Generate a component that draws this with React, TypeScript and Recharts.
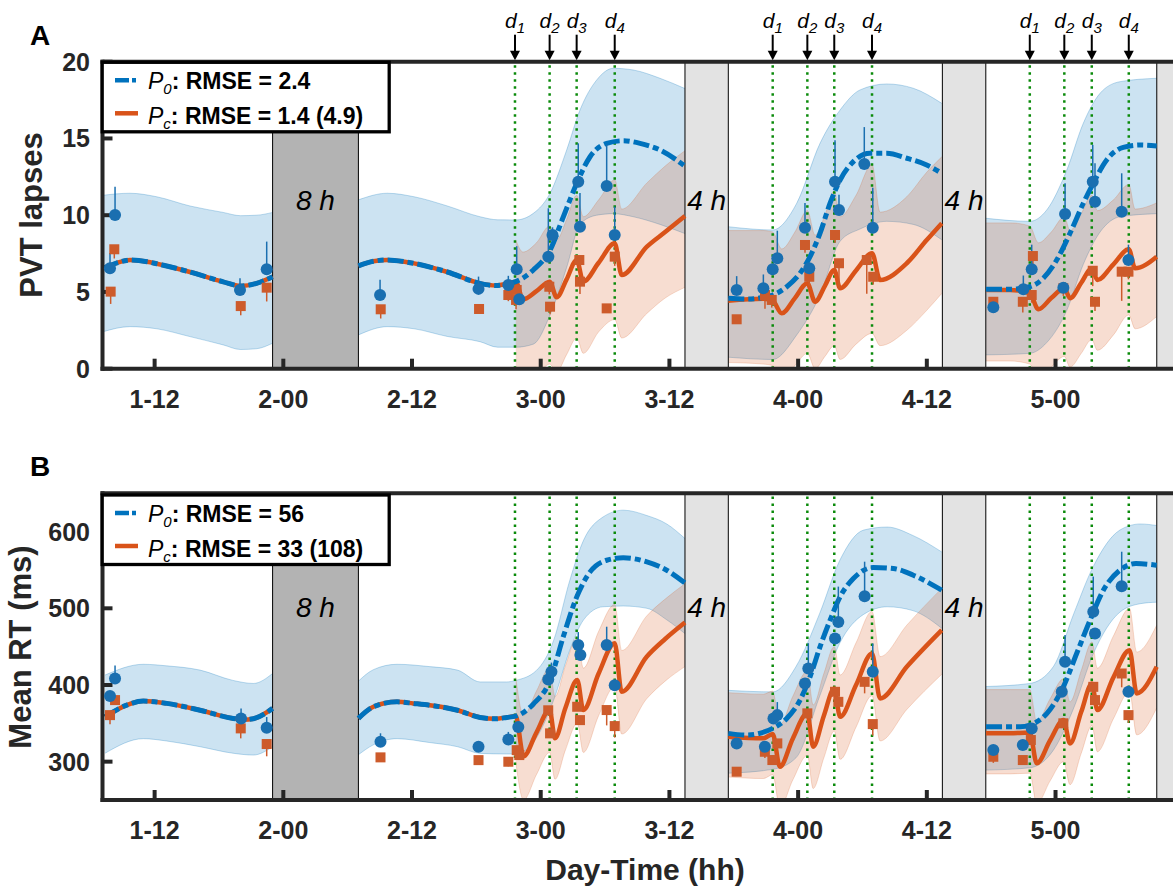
import React from "react";
import {
  Area,
  ComposedChart,
  ErrorBar,
  Line,
  ReferenceArea,
  ReferenceLine,
  Scatter,
  XAxis,
  YAxis,
} from "recharts";

type Pt = [number, number];
type Band = [number, number, number];
type Obs = [number, number, number];

const BLUE = "#0072bd";
const ORANGE = "#d95319";
const BLUE_DOT = "#1a6fb0";
const ORANGE_SQ = "#cd5b2b";
const DOSE_GREEN = "#0a8a0a";
const AXIS = "#262626";
const FONT = "'Liberation Sans', Arial, Helvetica, sans-serif";

// x is hours since day 1, 00:00
const X_DOMAIN: [number, number] = [7.14, 107.28];
const TICK_HOURS = [12, 24, 36, 48, 60, 72, 84, 96];
const TICK_LABELS = ["1-12", "2-00", "2-12", "3-00", "3-12", "4-00", "4-12", "5-00"];
const SLEEP_START = [23, 61.45, 85.45, 105.44];
const SLEEP_END = [31, 65.49, 89.5, 109.5];
const SLEEP_LABEL = ["8 h", "4 h", "4 h", ""];
const SLEEP_FILL = ["#b3b3b3", "#e3e3e3", "#e3e3e3", "#e3e3e3"];
const DOSES = [45.6, 48.83, 51.35, 54.9, 69.63, 72.86, 75.37, 78.89, 93.6, 96.82, 99.38, 102.83];
const DOSE_NUM = [1, 2, 3, 4, 1, 2, 3, 4, 1, 2, 3, 4];

// ---- panel A: PVT lapses ----
const lapsesDay1: Pt[] = [[7.2, 6.54], [8.5, 6.9], [9.7, 7.08], [11.3, 6.97], [12.2, 6.84], [15.3, 6.3], [18.4, 5.66], [20.0, 5.39], [21.5, 5.56], [23.0, 5.99]];
const lapsesDay2Pre: Pt[] = [[31.0, 6.7], [32.4, 7.0], [33.7, 7.08], [35.3, 6.97], [36.2, 6.86], [39.3, 6.3], [42.34, 5.56], [43.8, 5.42], [44.83, 5.52], [45.67, 5.67]];
const lapsesP0: Pt[][] = [
  lapsesDay1,
  [...lapsesDay2Pre, [47.31, 6.43], [48.87, 7.73], [50.11, 9.9], [51.36, 12.08], [52.6, 13.81], [54.15, 14.68], [55.7, 14.85], [57.26, 14.68], [59.12, 14.25], [61.45, 13.2]],
  [[65.49, 4.59], [67.2, 4.54], [68.76, 4.65], [69.63, 4.8], [70.94, 5.34], [72.18, 6.22], [73.11, 7.3], [74.04, 8.82], [74.98, 10.78], [75.91, 12.29], [77.15, 13.49], [78.7, 14.03], [80.26, 14.03], [82.13, 13.71], [83.99, 13.27], [85.39, 12.73]],
  [[89.52, 5.17], [91.76, 5.17], [93.6, 5.34], [94.86, 5.89], [96.11, 7.08], [97.35, 8.82], [98.59, 10.78], [99.52, 12.08], [100.77, 13.6], [102.32, 14.42], [103.88, 14.57], [105.43, 14.51]],
];
const lapsesPc: Pt[][] = [
  lapsesDay1,
  [...lapsesDay2Pre, [46.35, 4.52], [47.6, 5.05], [48.83, 5.67], [49.49, 4.65], [50.4, 5.8], [51.36, 7.08], [51.97, 5.67], [53.4, 6.9], [54.9, 8.17], [55.55, 6.1], [57.9, 7.95], [59.6, 8.9], [61.45, 9.95]],
  [[65.49, 4.43], [68.76, 4.55], [69.63, 4.43], [70.47, 3.61], [71.7, 4.6], [72.86, 5.56], [73.58, 4.36], [74.5, 5.4], [75.37, 6.43], [75.91, 5.24], [77.4, 6.4], [78.89, 7.52], [79.64, 5.78], [82.13, 6.87], [83.99, 8.38], [85.39, 9.47]],
  [[89.52, 5.13], [91.76, 5.13], [93.6, 4.91], [94.4, 3.87], [95.6, 4.6], [96.82, 5.24], [97.35, 4.59], [98.4, 5.6], [99.38, 6.54], [99.9, 5.78], [101.4, 6.8], [102.83, 7.78], [103.42, 6.54], [105.43, 7.3]],
];
const lapsesP0Band: Band[][] = [
  [[7.2, 2.41, 11.3], [9.7, 2.74, 11.43], [12.2, 2.6, 11.2], [15.3, 2.09, 10.6], [18.4, 1.55, 10.18], [20.0, 1.25, 9.97], [21.5, 1.3, 10.0], [23.0, 1.66, 10.18]],
  [[31.0, 2.2, 11.0], [33.7, 2.74, 11.43], [36.2, 2.6, 11.2], [39.3, 2.1, 10.6], [42.34, 1.76, 9.9], [44.0, 1.4, 9.7], [45.67, 1.4, 9.69], [47.31, 1.6, 10.12], [48.87, 3.5, 11.43], [50.42, 6.6, 14.25], [51.66, 9.4, 16.85], [53.22, 10.0, 18.81], [54.77, 10.1, 19.57], [56.63, 9.9, 19.46], [59.12, 9.4, 18.92], [61.45, 8.8, 18.25]],
  [[65.49, 0.75, 9.25], [69.63, 0.6, 9.04], [71.87, 2.2, 10.78], [74.04, 4.8, 14.68], [75.91, 8.3, 16.85], [77.77, 9.1, 18.16], [80.26, 9.6, 18.55], [82.74, 9.4, 18.27], [85.39, 8.4, 17.29]],
  [[89.52, 0.9, 9.8], [93.6, 1.0, 9.6], [95.18, 1.7, 10.34], [97.05, 3.8, 12.94], [98.59, 6.8, 15.99], [100.15, 8.9, 17.94], [102.02, 9.9, 18.7], [105.43, 10.1, 18.92]],
];
const lapsesPcBand: Band[][] = [
  [[45.67, -0.8, 8.4], [46.35, -1.0, 7.6], [47.6, -0.5, 8.2], [48.83, 0.3, 9.3], [49.49, -0.2, 8.4], [50.4, 0.9, 9.7], [51.36, 2.0, 11.3], [51.97, 1.0, 9.9], [53.4, 2.4, 11.0], [54.9, 3.2, 12.3], [55.55, 2.0, 10.4], [57.9, 3.6, 12.1], [59.6, 4.6, 13.2], [61.45, 5.3, 14.2]],
  [[65.49, 0.4, 9.0], [68.76, 0.3, 9.0], [69.63, 0.2, 8.9], [70.47, -0.8, 7.8], [71.7, 0.2, 8.9], [72.86, 1.0, 10.3], [73.58, 0.0, 8.7], [74.5, 0.8, 10.0], [75.37, 1.5, 11.6], [75.91, 0.6, 9.9], [77.4, 1.6, 11.3], [78.89, 2.3, 13.3], [79.64, 1.5, 10.2], [82.13, 2.5, 11.2], [83.99, 3.8, 12.8], [85.39, 4.9, 13.8]],
  [[89.52, 0.5, 9.5], [91.76, 0.5, 9.5], [93.6, 0.3, 9.3], [94.4, -0.7, 8.2], [95.6, 0.1, 8.9], [96.82, 0.8, 9.9], [97.35, 0.1, 9.0], [98.4, 1.0, 10.1], [99.38, 1.9, 11.3], [99.9, 1.2, 10.3], [101.4, 2.2, 11.0], [102.83, 3.5, 12.0], [103.42, 2.6, 10.4], [105.43, 3.4, 10.8]],
];
// [hour, mean, error bar length]
const lapsesObsP0: Obs[] = [[7.84, 6.54, 1.0], [8.31, 10.01, 1.85], [19.96, 5.13, 0.76], [22.45, 6.48, 1.8], [33.02, 4.8, 1.0], [42.2, 5.2, 0.8], [44.98, 5.45, 0.6], [45.76, 6.48, 1.5], [46.0, 4.52, 0], [48.71, 7.3, 3.15], [49.1, 8.71, 0.5], [51.5, 12.18, 2.5], [51.66, 9.25, 2.2], [54.15, 11.9, 2.7], [54.9, 8.71, 1.85], [66.27, 5.13, 0.9], [68.76, 5.24, 0.9], [69.63, 6.48, 0], [70.06, 7.19, 1.8], [72.64, 9.19, 1.6], [73.04, 6.54, 0], [75.44, 12.18, 2.7], [75.81, 10.34, 1.0], [78.17, 13.34, 2.4], [78.96, 9.19, 2.6], [90.2, 4.0, 0], [93.0, 5.17, 0.9], [93.78, 6.48, 1.6], [96.73, 5.28, 0], [96.89, 10.08, 2.0], [99.47, 12.18, 2.4], [99.68, 10.88, 2.5], [102.17, 10.23, 2.5], [102.8, 7.08, 1.0]];
const lapsesObsPc: Obs[] = [[7.9, 5.02, 0.8], [8.24, 7.78, 0.6], [20.03, 4.08, 0.6], [22.45, 5.28, 0.9], [33.08, 3.87, 0.6], [42.25, 3.89, 0.3], [44.98, 4.8, 0.4], [45.7, 4.48, 0.6], [45.76, 5.13, 0.5], [48.8, 5.34, 0.5], [48.87, 4.04, 0.5], [51.6, 7.08, 0.6], [51.66, 5.67, 0.8], [54.15, 3.93, 0], [54.9, 7.3, 0.6], [66.27, 3.22, 0], [68.91, 4.8, 0.9], [69.54, 4.48, 0.5], [72.64, 8.06, 0.5], [73.04, 5.99, 0.6], [75.44, 8.71, 0.5], [75.81, 6.87, 1.6], [78.4, 7.08, 2.2], [79.0, 5.99, 0.5], [90.2, 4.36, 0.5], [92.95, 4.36, 0.7], [93.78, 4.8, 0.5], [93.89, 7.34, 1.2], [96.73, 5.24, 0.5], [99.47, 6.38, 1.0], [99.68, 4.36, 0.6], [102.17, 6.32, 1.9], [102.8, 6.32, 0.5]];

// ---- panel B: mean RT (ms) ----
const rtDay1: Pt[] = [[7.38, 358.5], [9.4, 373.8], [10.95, 379], [13.13, 376], [16.24, 367], [19.34, 356.4], [20.3, 354.8], [21.2, 356], [23.0, 369.5]];
const rtDay2Pre: Pt[] = [[31.0, 356.4], [32.4, 371.6], [34.6, 378], [36.1, 376], [40.24, 367], [42.35, 357.7], [43.8, 356], [44.83, 357.7], [45.67, 359.4]];
const rtP0: Pt[][] = [
  rtDay1,
  [...rtDay2Pre, [47.3, 375], [48.88, 406.3], [50.1, 462.8], [51.36, 514.9], [52.6, 547.5], [54.15, 562.7], [55.7, 566], [57.9, 560.5], [59.75, 549.7], [61.45, 533]],
  [[65.49, 336.9], [67.2, 334.7], [69.63, 343.4], [70.94, 356.4], [72.18, 380.3], [73.11, 410.7], [74.04, 449.7], [74.98, 484.5], [75.91, 514.9], [77.15, 538.8], [79.0, 553.1], [80.88, 551.8], [82.74, 543.2], [85.39, 523.6]],
  [[89.52, 345.5], [92.7, 345.5], [93.6, 347.7], [95.2, 363], [96.73, 397.6], [97.97, 441], [99.22, 484.5], [100.46, 523.6], [102.0, 549.7], [103.5, 558.4], [105.43, 556.2]],
];
const rtPc: Pt[][] = [
  rtDay1,
  [...rtDay2Pre, [46.4, 307], [47.6, 338], [48.83, 367.4], [49.33, 330.5], [50.3, 370], [51.41, 406.5], [51.97, 367.4], [53.4, 415], [54.9, 454.3], [55.55, 391.2], [57.88, 436.9], [59.6, 460], [61.45, 481.5]],
  [[65.49, 332.5], [68.76, 330.4], [69.63, 336], [70.3, 293.4], [71.5, 330], [72.86, 363], [73.4, 319.5], [74.4, 360], [75.37, 395.3], [75.91, 358.5], [77.4, 400], [78.89, 441.1], [79.64, 382.4], [82.13, 423.7], [85.39, 471.5]],
  [[89.52, 336.9], [91.76, 337], [93.6, 338], [94.25, 297.8], [95.5, 328], [96.75, 354.2], [97.35, 323.8], [98.4, 365], [99.4, 402], [99.9, 367.3], [101.4, 410], [102.9, 445.4], [103.57, 389], [105.43, 423.7]],
];
const rtP0Band: Band[][] = [
  [[7.38, 311, 413], [10.95, 330, 427], [13.1, 327, 425], [16.24, 319.5, 419.4], [19.3, 311, 406], [21.2, 308.6, 402], [23.0, 319.5, 415]],
  [[31.0, 309, 405], [32.4, 322, 420], [34.6, 330, 427], [37.6, 325, 424], [40.24, 319.5, 419.4], [42.35, 310.8, 404], [44.83, 310, 404], [45.67, 310, 406], [47.6, 331, 419], [49.2, 380, 458], [50.7, 445, 536], [52.0, 485, 589], [53.8, 502, 619], [55.7, 503, 628], [57.9, 500, 621], [59.75, 485, 610], [61.45, 467, 591]],
  [[65.49, 285, 393], [69.63, 290, 391], [71.8, 305, 424], [74.0, 385, 493], [75.9, 455, 563], [78.1, 492, 602], [80.3, 502, 606], [82.7, 497, 595], [85.39, 474, 573.5]],
  [[89.52, 289, 398], [93.6, 292, 402], [95.8, 315, 424], [97.7, 370, 493], [99.5, 440, 554], [102.0, 495, 602], [103.9, 506, 610], [105.43, 508, 608]],
];
const rtPcBand: Band[][] = [
  [[45.67, 300, 410], [46.4, 250, 360], [47.6, 283, 392], [48.83, 312, 422], [49.33, 277, 385], [50.3, 315, 425], [51.41, 350, 462], [51.97, 312, 422], [53.4, 360, 470], [54.9, 398, 505], [55.55, 336, 445], [57.88, 382, 490], [59.6, 405, 512], [61.45, 424, 532]],
  [[65.49, 280, 390], [68.76, 278, 388], [69.63, 283, 392], [70.3, 240, 348], [71.5, 276, 385], [72.86, 308, 418], [73.4, 265, 374], [74.4, 305, 415], [75.37, 340, 450], [75.91, 303, 413], [77.4, 345, 455], [78.89, 386, 496], [79.64, 327, 437], [82.13, 368, 478], [85.39, 414, 526]],
  [[89.52, 284, 394], [91.76, 284, 394], [93.6, 285, 394], [94.25, 245, 352], [95.5, 275, 382], [96.75, 300, 408], [97.35, 270, 378], [98.4, 311, 419], [99.4, 347, 456], [99.9, 313, 422], [101.4, 356, 464], [102.9, 391, 500], [103.57, 335, 443], [105.43, 370, 478]],
];
const rtObsP0: Obs[] = [[7.84, 385.5, 0], [8.31, 408.5, 17], [20.06, 356.4, 13], [22.45, 344.2, 14], [33.06, 326, 11], [42.2, 319.5, 0], [44.98, 328.8, 10], [45.91, 345.3, 6], [48.7, 407.2, 0], [49.0, 417.2, 12], [51.5, 452, 17], [51.7, 439, 0], [54.15, 452, 24], [54.9, 399.8, 0], [66.27, 323.8, 0], [68.9, 319.5, 0], [69.7, 356.4, 0], [70.06, 360.7, 17], [72.64, 401.8, 0], [72.95, 421.4, 33], [75.44, 460.7, 0], [75.75, 482.3, 46], [78.2, 515.8, 45], [78.96, 417.2, 37], [90.2, 315.1, 0], [92.95, 321.7, 0], [93.78, 343.4, 0], [96.58, 391.1, 0], [96.89, 430.2, 35], [99.52, 495.4, 46], [99.68, 467.2, 0], [102.17, 528.8, 45], [102.8, 391.1, 0]];
const rtObsPc: Obs[] = [[7.84, 360.7, 12], [8.31, 380.3, 0], [20.03, 343.4, 13], [22.45, 323, 16], [33.06, 305.6, 4], [42.2, 302, 0], [44.98, 299.9, 6], [45.76, 315, 0], [46.0, 308.6, 6], [48.7, 367, 0], [48.87, 336.9, 0], [51.4, 371.6, 0], [51.66, 354.2, 0], [54.15, 367.3, 20], [54.9, 346.4, 15], [66.27, 286.9, 0], [68.9, 312.9, 8], [69.6, 302.1, 0], [70.06, 323.8, 0], [72.86, 363, 0], [75.44, 391.1, 15], [75.75, 378, 0], [78.2, 404.1, 15], [78.96, 349, 15], [90.2, 306.4, 8], [92.95, 302.1, 6], [93.7, 328.2, 0], [96.73, 350, 0], [99.52, 397.6, 13], [99.68, 380.3, 0], [102.17, 415, 18], [102.8, 360.7, 10]];

const toLine = (seg: Pt[]) => seg.map(([h, v]) => ({ h, v }));
const toBand = (seg: Band[]) => seg.map(([h, lo, hi]) => ({ h, r: [lo, hi] }));

const BlueDot = (p: any) => <circle cx={p.cx} cy={p.cy} r={6} fill={BLUE_DOT} />;
const OrangeSq = (p: any) => <rect x={p.cx - 5} y={p.cy - 5} width={10} height={10} fill={ORANGE_SQ} />;

function DoseMark({ vb, n }: { vb: any; n: number }) {
  const x = vb.x;
  const y = vb.y;
  return (
    <g>
      <line x1={x} x2={x} y1={y - 27} y2={y - 10} stroke="#000" strokeWidth={2} />
      <polygon points={`${x - 5},${y - 11} ${x + 5},${y - 11} ${x},${y - 1.5}`} fill="#000" />
      <text x={x} y={y - 34} textAnchor="middle" fontFamily={FONT} fontStyle="italic" fontSize={21} fill="#000">
        d<tspan fontSize={15} dy={5}>{n}</tspan>
      </text>
    </g>
  );
}

interface PanelProps {
  top: number;
  height: number;
  marginTop: number;
  marginBottom: number;
  domain: [number, number];
  yTicks: number[];
  p0: Pt[][];
  pc: Pt[][];
  p0Band: Band[][];
  pcBand: Band[][];
  obsP0: Obs[];
  obsPc: Obs[];
  boxLabelDy: number;
  arrows: boolean;
}

function Panel(props: PanelProps) {
  const { top, height, marginTop, marginBottom, domain, yTicks, boxLabelDy, arrows } = props;
  const axisLine = { stroke: AXIS, strokeWidth: 4, strokeLinecap: "square" as const };
  const tickLine = { stroke: AXIS, strokeWidth: 4 };
  const tickText = { fill: AXIS, fontSize: 25, fontWeight: 700, fontFamily: FONT };
  const blueObs = props.obsP0.map(([h, v, e]) => ({ h, v, e: [0, e] }));
  const orangeObs = props.obsPc.map(([h, v, e]) => ({ h, v, e: [e, 0] }));

  return (
    <div style={{ position: "absolute", left: 0, top }}>
      <ComposedChart
        width={1200}
        height={height}
        margin={{ top: marginTop - 1, right: 22.5, bottom: marginBottom, left: 12.5 }}
      >
        <XAxis
          dataKey="h"
          type="number"
          domain={X_DOMAIN}
          allowDataOverflow
          ticks={TICK_HOURS}
          interval={0}
          tickFormatter={(h: number) => TICK_LABELS[TICK_HOURS.indexOf(h)]}
          height={60}
          tickSize={-10}
          tickMargin={31.5}
          axisLine={axisLine}
          tickLine={tickLine}
          tick={tickText}
        />
        <XAxis
          xAxisId="top"
          orientation="top"
          dataKey="h"
          type="number"
          domain={X_DOMAIN}
          allowDataOverflow
          ticks={TICK_HOURS}
          interval={0}
          height={1}
          tickSize={-10}
          axisLine={axisLine}
          tickLine={tickLine}
          tick={false}
        />
        <YAxis
          type="number"
          domain={domain}
          allowDataOverflow
          ticks={yTicks}
          interval={0}
          width={90}
          tickSize={-10}
          tickMargin={22.5}
          axisLine={axisLine}
          tickLine={tickLine}
          tick={tickText}
        />
        <YAxis
          yAxisId="right"
          orientation="right"
          type="number"
          domain={domain}
          allowDataOverflow
          ticks={yTicks}
          interval={0}
          width={1}
          tickSize={-10}
          axisLine={axisLine}
          tickLine={tickLine}
          tick={false}
        />

        {props.p0Band.map((seg, i) => (
          <Area
            key={`bb${i}`}
            data={toBand(seg)}
            dataKey="r"
            type="monotone"
            fill={BLUE}
            fillOpacity={0.2}
            stroke={BLUE}
            strokeOpacity={0.25}
            strokeWidth={1}
            dot={false}
            activeDot={false}
            isAnimationActive={false}
          />
        ))}
        {props.pcBand.map((seg, i) => (
          <Area
            key={`ob${i}`}
            data={toBand(seg)}
            dataKey="r"
            type="monotone"
            fill={ORANGE}
            fillOpacity={0.2}
            stroke={ORANGE}
            strokeOpacity={0.2}
            strokeWidth={1}
            dot={false}
            activeDot={false}
            isAnimationActive={false}
          />
        ))}

        {SLEEP_START.map((x1, i) => (
          <ReferenceArea
            key={`s${i}`}
            x1={x1}
            x2={SLEEP_END[i]}
            ifOverflow="hidden"
            fill={SLEEP_FILL[i]}
            fillOpacity={1}
            stroke="#000"
            strokeWidth={1}
            label={
              SLEEP_LABEL[i]
                ? (p: any) => {
                    const vb = p.viewBox ?? p;
                    return (
                      <text
                        x={vb.x + vb.width / 2}
                        y={vb.y + boxLabelDy}
                        textAnchor="middle"
                        fontFamily={FONT}
                        fontStyle="italic"
                        fontSize={28}
                        fill="#000"
                      >
                        {SLEEP_LABEL[i]}
                      </text>
                    );
                  }
                : undefined
            }
          />
        ))}

        {DOSES.map((d, i) => (
          <ReferenceLine
            key={`d${i}`}
            x={d}
            stroke={DOSE_GREEN}
            strokeWidth={2.5}
            strokeDasharray="2.5 4.5"
            label={arrows ? (p: any) => <DoseMark vb={p.viewBox ?? p} n={DOSE_NUM[i]} /> : undefined}
          />
        ))}

        {props.pc.map((seg, i) => (
          <Line
            key={`pc${i}`}
            data={toLine(seg)}
            dataKey="v"
            type="monotone"
            stroke={ORANGE}
            strokeWidth={4.5}
            dot={false}
            activeDot={false}
            isAnimationActive={false}
          />
        ))}
        {props.p0.map((seg, i) => (
          <Line
            key={`p0${i}`}
            data={toLine(seg)}
            dataKey="v"
            type="monotone"
            stroke={BLUE}
            strokeWidth={5}
            strokeDasharray="16 4 6 4"
            dot={false}
            activeDot={false}
            isAnimationActive={false}
          />
        ))}

        <Scatter data={orangeObs} dataKey="v" shape={OrangeSq} isAnimationActive={false}>
          <ErrorBar dataKey="e" direction="y" width={0} stroke={ORANGE_SQ} strokeWidth={1.5} />
        </Scatter>
        <Scatter data={blueObs} dataKey="v" shape={BlueDot} isAnimationActive={false}>
          <ErrorBar dataKey="e" direction="y" width={0} stroke={BLUE_DOT} strokeWidth={1.5} />
        </Scatter>
      </ComposedChart>
    </div>
  );
}

function LegendBox({ y, p0Text, pcText }: { y: number; p0Text: string; pcText: string }) {
  return (
    <g fontFamily={FONT} fill="#000">
      <rect x={102.2} y={y} width={287} height={69.5} fill="#fff" stroke="#000" strokeWidth={3.3} />
      <line x1={115} x2={138} y1={y + 18} y2={y + 18} stroke={BLUE} strokeWidth={4.5} strokeDasharray="14 3 4 3" />
      <line x1={115} x2={138} y1={y + 51} y2={y + 51} stroke={ORANGE} strokeWidth={4.5} />
      <text x={148} y={y + 26.5} fontSize={23} fontWeight={700}>
        <tspan fontStyle="italic" fontWeight={400}>P</tspan>
        <tspan fontStyle="italic" fontWeight={400} fontSize={15} dy={5}>0</tspan>
        <tspan dy={-5}>{p0Text}</tspan>
      </text>
      <text x={148} y={y + 61.5} fontSize={23} fontWeight={700}>
        <tspan fontStyle="italic" fontWeight={400}>P</tspan>
        <tspan fontStyle="italic" fontWeight={400} fontSize={15} dy={5}>c</tspan>
        <tspan dy={-5}>{pcText}</tspan>
      </text>
    </g>
  );
}

export default function App() {
  return (
    <div
      style={{
        position: "absolute",
        left: 0,
        top: 0,
        width: 1173,
        height: 888,
        overflow: "hidden",
        background: "#fff",
        fontFamily: FONT,
      }}
    >
      <Panel
        top={0}
        height={430}
        marginTop={61.7}
        marginBottom={1.3}
        domain={[0, 20]}
        yTicks={[0, 5, 10, 15, 20]}
        p0={lapsesP0}
        pc={lapsesPc}
        p0Band={lapsesP0Band}
        pcBand={lapsesPcBand}
        obsP0={lapsesObsP0}
        obsPc={lapsesObsPc}
        boxLabelDy={148}
        arrows
      />
      <Panel
        top={432}
        height={456}
        marginTop={61.3}
        marginBottom={28}
        domain={[250, 650]}
        yTicks={[300, 400, 500, 600]}
        p0={rtP0}
        pc={rtPc}
        p0Band={rtP0Band}
        pcBand={rtPcBand}
        obsP0={rtObsP0}
        obsPc={rtObsPc}
        boxLabelDy={124}
        arrows={false}
      />
      <svg
        width={1173}
        height={888}
        style={{ position: "absolute", left: 0, top: 0, pointerEvents: "none" }}
      >
        <LegendBox y={62.3} p0Text=": RMSE = 2.4" pcText=": RMSE = 1.4 (4.9)" />
        <LegendBox y={495} p0Text=": RMSE = 56" pcText=": RMSE = 33 (108)" />
        <g fontFamily={FONT} fontWeight={700}>
          <text x={30} y={45} fontSize={28} fill="#000">A</text>
          <text x={30} y={476} fontSize={28} fill="#000">B</text>
          <text x={42} y={215} fontSize={31} fill={AXIS} textAnchor="middle" transform="rotate(-90 42 215)">
            PVT lapses
          </text>
          <text x={31} y={647} fontSize={31} fill={AXIS} textAnchor="middle" transform="rotate(-90 31 647)">
            Mean RT (ms)
          </text>
          <text x={645} y={880} fontSize={30} fill={AXIS} textAnchor="middle">
            Day-Time (hh)
          </text>
        </g>
      </svg>
    </div>
  );
}
